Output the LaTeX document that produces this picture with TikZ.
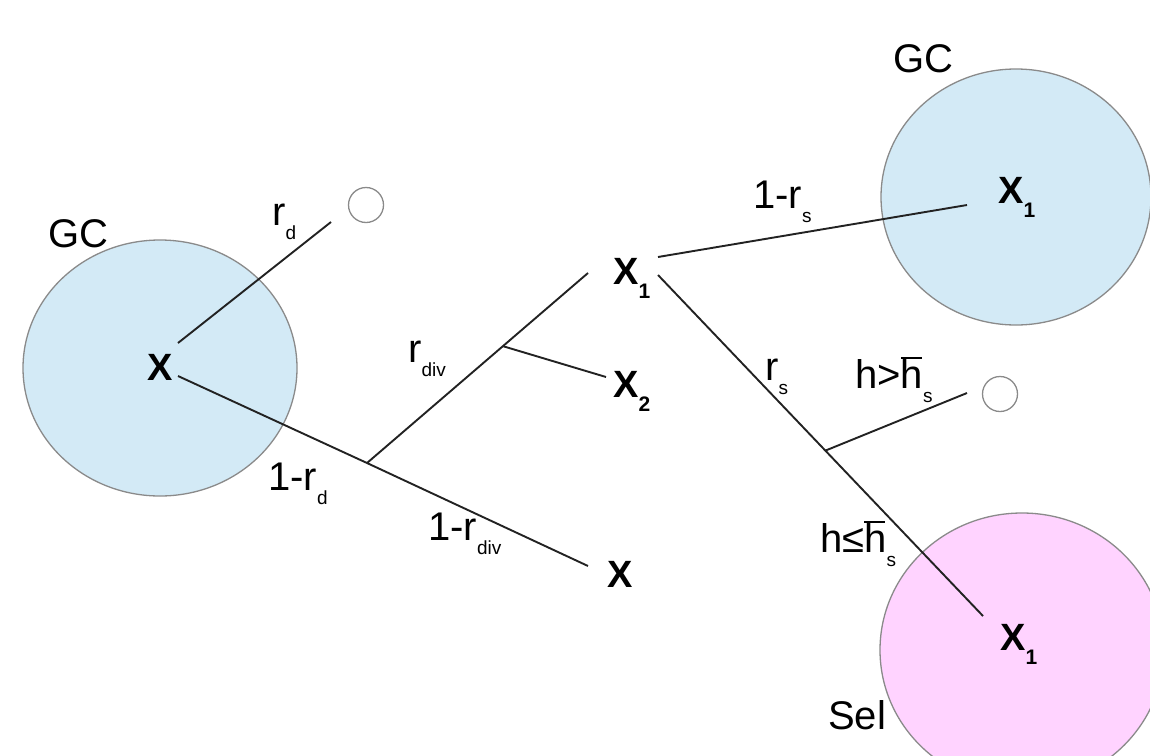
\documentclass[tikz,border=0pt]{standalone}
\usepackage{fontspec}
\setmainfont{Liberation Sans}
\usetikzlibrary{calc}
\definecolor{gcblue}{HTML}{D3EAF6}
\definecolor{selpink}{HTML}{FFD3FF}
\definecolor{rimgrey}{HTML}{8A8A8A}
\definecolor{linedark}{HTML}{222222}
\newcommand\sbx[1]{\raisebox{-14pt}{\fontsize{19}{19}\selectfont #1}}
\newcommand\xsb[1]{\raisebox{-14pt}{\fontsize{21}{21}\selectfont\bfseries #1}}
\newcommand\hbr{\rlap{\rule[29.5pt]{21pt}{1.8pt}}h}
\tikzset{
  pool/.style={draw=rimgrey, line width=1.3pt},
  sink/.style={circle, draw=rimgrey, fill=white, line width=1.3pt, minimum size=35pt, inner sep=0pt},
  lbl/.style={anchor=base west, inner sep=0pt, font=\fontsize{40}{44}\selectfont},
  xlbl/.style={anchor=base west, inner sep=0pt, font=\fontsize{38}{42}\selectfont\bfseries},
  conn/.style={draw=linedark, line width=1.9pt}
}
\begin{document}
\begin{tikzpicture}[x=1pt,y=-1pt]
\useasboundingbox (0,0) rectangle (1150,755);
\clip (0,0) rectangle (1150,755);
% pools
\filldraw[pool, fill=gcblue] (160,368) ellipse [x radius=137, y radius=128];
\filldraw[pool, fill=gcblue] (1016,197) ellipse [x radius=135, y radius=128];
\filldraw[pool, fill=selpink] (1022,650) ellipse [x radius=142, y radius=137];
% sinks
\node[sink] (s1) at (366,205) {};
\node[sink] (s2) at (1000,394) {};
% labels
\node[lbl] (gcl) at (48,247) {GC};
\node[lbl] (gcr) at (893,72) {GC};
\node[lbl] (sel) at (828,729) {Sel};
\node[lbl] (rd) at (272,225) {r\sbx{d}};
\node[lbl] (omrd) at (268,490) {1-r\sbx{d}};
\node[lbl] (rdiv) at (408,362) {r\sbx{div}};
\node[lbl] (omrdiv) at (428,540) {1-r\sbx{div}};
\node[lbl] (omrs) at (753,208) {1-r\sbx{s}};
\node[lbl] (rs) at (765,380) {r\sbx{s}};
\node[lbl] (hgt) at (855,388) {h>\hbr\sbx{s}};
\node[lbl] (hle) at (820,552) {h≤\hbr\sbx{s}};
% cell labels
\node[xlbl] (x0) at (147,380) {X};
\node[xlbl] (x1) at (613,284) {X\xsb{1}};
\node[xlbl] (x2) at (613,397) {X\xsb{2}};
\node[xlbl] (x3) at (607,587) {X};
\node[xlbl] (x1gc) at (998,203) {X\xsb{1}};
\node[xlbl] (x1sel) at (1000,650) {X\xsb{1}};
% connector end points
\coordinate (a0) at (178,343);
\coordinate (a1) at (331,222);
\coordinate (b0) at (178,376);
\coordinate (b1) at (367,463);
\coordinate (b2) at (588,566);
\coordinate (c1) at (588,273);
\coordinate (c2) at ($(b1)!0.615!(c1)$);
\coordinate (c3) at (606,377);
\coordinate (d0) at (658,257);
\coordinate (d1) at (967,205);
\coordinate (e0) at (658,275);
\coordinate (e1) at (983,616);
\coordinate (e2) at ($(e0)!0.515!(e1)$);
\coordinate (e3) at (967,393);
% connectors
\draw[conn] (a0) -- (a1);
\draw[conn] (b0) -- (b1) -- (b2);
\draw[conn] (b1) -- (c1);
\draw[conn] (c2) -- (c3);
\draw[conn] (d0) -- (d1);
\draw[conn] (e0) -- (e1);
\draw[conn] (e2) -- (e3);
\end{tikzpicture}
\end{document}
